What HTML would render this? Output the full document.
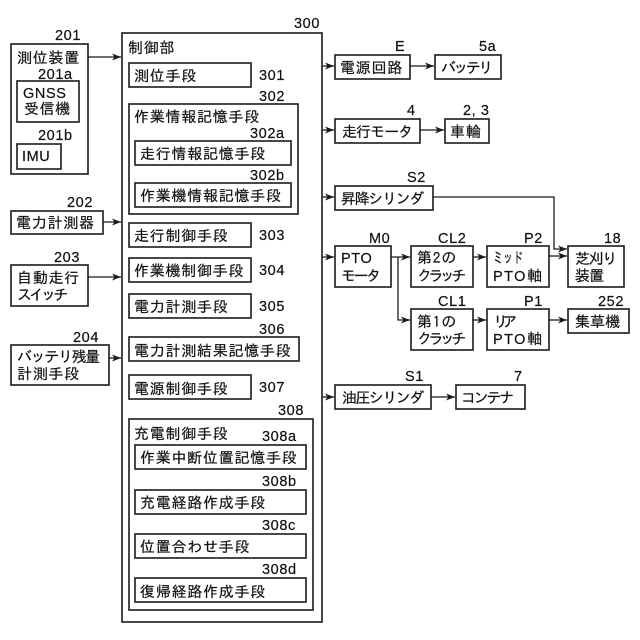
<!DOCTYPE html>
<html><head><meta charset="utf-8"><style>
html,body{margin:0;padding:0;background:#fff}
svg{display:block}
text{font-family:"Liberation Sans","IPAGothic","Noto Sans CJK JP",sans-serif;fill:#111;stroke:#111;stroke-width:.2}
.j text{font-family:"IPAGothic","Noto Sans CJK JP",sans-serif;font-size:15px;letter-spacing:.75px}
.n text{font-size:14.5px;letter-spacing:.6px}
rect{fill:#fff;stroke:#1a1a1a;stroke-width:1.6}
.l{fill:none;stroke:#1a1a1a;stroke-width:1.3}
.a{fill:#1a1a1a;stroke:none}
</style></head><body>
<svg width="640" height="640" viewBox="0 0 640 640" xmlns="http://www.w3.org/2000/svg">
<defs><marker id="h" markerUnits="userSpaceOnUse" markerWidth="10" markerHeight="8" refX="9" refY="4" orient="auto"><path class="a" d="M0 .5L9 4L0 7.5L2.5 4Z"/></marker></defs>
<rect x="122" y="33" width="200" height="589"/>
<rect x="11" y="44" width="77" height="130"/><rect x="17" y="81" width="62" height="41"/><rect x="17" y="144" width="44" height="25"/>
<rect x="11" y="211" width="92" height="23"/><rect x="11" y="265" width="77" height="41"/><rect x="11" y="345" width="98" height="40"/>
<rect x="129" y="63" width="122" height="24"/><rect x="129" y="104" width="169" height="110"/><rect x="135" y="141" width="156" height="24"/><rect x="135" y="183" width="156" height="24"/>
<rect x="129" y="223" width="122" height="24"/><rect x="129" y="258" width="122" height="24"/><rect x="129" y="294" width="122" height="24"/><rect x="129" y="337" width="170" height="24"/><rect x="129" y="375" width="122" height="24"/>
<rect x="129" y="419" width="184" height="191"/><rect x="135" y="445" width="171" height="24"/><rect x="135" y="490" width="171" height="24"/><rect x="135" y="534" width="171" height="24"/><rect x="135" y="578" width="171" height="24"/>
<rect x="335" y="55" width="75" height="24"/><rect x="435" y="55" width="66" height="24"/><rect x="335" y="119" width="85" height="24"/><rect x="445" y="119" width="44" height="24"/><rect x="335" y="186" width="98" height="24"/>
<rect x="335" y="246" width="56" height="41"/><rect x="411" y="246" width="62" height="41"/><rect x="487" y="246" width="62" height="41"/><rect x="568" y="246" width="56" height="41"/>
<rect x="411" y="309" width="62" height="41"/><rect x="487" y="309" width="62" height="41"/><rect x="568" y="309" width="61" height="24"/>
<rect x="335" y="385" width="96" height="24"/><rect x="456" y="385" width="69" height="24"/>

<g class="l">
<path marker-end="url(#h)" d="M88 57H121"/><path marker-end="url(#h)" d="M103 222H121"/><path marker-end="url(#h)" d="M88 277H121"/><path marker-end="url(#h)" d="M109 358H121"/>
<path marker-end="url(#h)" d="M322 66H334"/><path marker-end="url(#h)" d="M410 66H434"/><path marker-end="url(#h)" d="M322 130H334"/><path marker-end="url(#h)" d="M420 130H444"/><path marker-end="url(#h)" d="M322 197H334"/>
<path marker-end="url(#h)" d="M322 257H334"/><path marker-end="url(#h)" d="M391 257H410"/><path marker-end="url(#h)" d="M473 257H486"/><path marker-end="url(#h)" d="M549 256H567"/>
<path marker-end="url(#h)" d="M433 197H554V249H567"/><path marker-end="url(#h)" d="M398 257V320H410"/><path marker-end="url(#h)" d="M473 320H486"/><path marker-end="url(#h)" d="M549 320H567"/>
<path marker-end="url(#h)" d="M322 397H334"/><path marker-end="url(#h)" d="M431 397H455"/>
</g>

<g class="j">
<text x="17" y="63">測位装置</text><text x="24" y="114" textLength="47">受信機</text><text x="16" y="228">電力計測器</text><text x="17" y="283">自動走行</text><text x="17" y="300" textLength="52">スイッチ</text><text x="17" y="362" textLength="84">バッテリ残量</text><text x="17" y="379">計測手段</text>
<text x="128" y="53">制御部</text><text x="134" y="81">測位手段</text><text x="134" y="122">作業情報記憶手段</text><text x="140" y="159">走行情報記憶手段</text><text x="140" y="201">作業機情報記憶手段</text><text x="134" y="241">走行制御手段</text><text x="134" y="276">作業機制御手段</text><text x="134" y="312">電力計測手段</text><text x="134" y="356">電力計測結果記憶手段</text><text x="134" y="394">電源制御手段</text>
<text x="134" y="439">充電制御手段</text><text x="140" y="463">作業中断位置記憶手段</text><text x="140" y="508">充電経路作成手段</text><text x="140" y="552">位置合わせ手段</text><text x="140" y="597">復帰経路作成手段</text>
<text x="340" y="73">電源回路</text><text x="441" y="73" textLength="53">バッテリ</text><text x="342" y="137" textLength="72">走行モータ</text><text x="450" y="137">車輪</text><text x="341" y="204" textLength="84">昇降シリンダ</text>
<text x="341" y="281" textLength="41">モータ</text><text x="417" y="263" textLength="40">第2の</text><text x="417" y="281" textLength="50">クラッチ</text><text x="493" y="263" style="letter-spacing:0" textLength="30" lengthAdjust="spacingAndGlyphs">ミッド</text><text x="527" y="281" style="letter-spacing:0">軸</text><text x="575" y="264" textLength="43">芝刈り</text><text x="575" y="281" textLength="30">装置</text>
<text x="417" y="327" textLength="40">第1の</text><text x="417" y="344" textLength="50">クラッチ</text><text x="493" y="327" textLength="25">リア</text><text x="527" y="344" style="letter-spacing:0">軸</text><text x="575" y="327" textLength="46">集草機</text>
<text x="342" y="403" textLength="83">油圧シリンダ</text><text x="461" y="403" textLength="54">コンテナ</text>
</g>
<g class="n">
<text x="23" y="98">GNSS</text><text x="22" y="161">IMU</text><text x="341" y="263">PTO</text><text x="493" y="281" textLength="33">PTO</text><text x="493" y="344" textLength="33">PTO</text>
<text x="55" y="40">201</text><text x="38" y="79">201a</text><text x="38" y="140">201b</text><text x="67" y="207">202</text><text x="54" y="262">203</text><text x="73" y="342">204</text>
<text x="294" y="28">300</text><text x="259" y="80">301</text><text x="259" y="101">302</text><text x="250" y="138">302a</text><text x="250" y="180">302b</text><text x="259" y="240">303</text><text x="259" y="275">304</text><text x="259" y="311">305</text><text x="259" y="334">306</text><text x="259" y="392">307</text><text x="278" y="415">308</text>
<text x="262" y="441">308a</text><text x="262" y="486">308b</text><text x="262" y="530">308c</text><text x="262" y="574">308d</text>
<text x="395" y="51">E</text><text x="479" y="51">5a</text><text x="407" y="115">4</text><text x="463" y="115">2, 3</text><text x="407" y="182">S2</text><text x="369" y="243">M0</text><text x="438" y="243">CL2</text><text x="524" y="243">P2</text><text x="604" y="243">18</text><text x="438" y="306">CL1</text><text x="524" y="306">P1</text><text x="598" y="306">252</text><text x="405" y="381">S1</text><text x="514" y="381">7</text>
</g>
</svg>
</body></html>
